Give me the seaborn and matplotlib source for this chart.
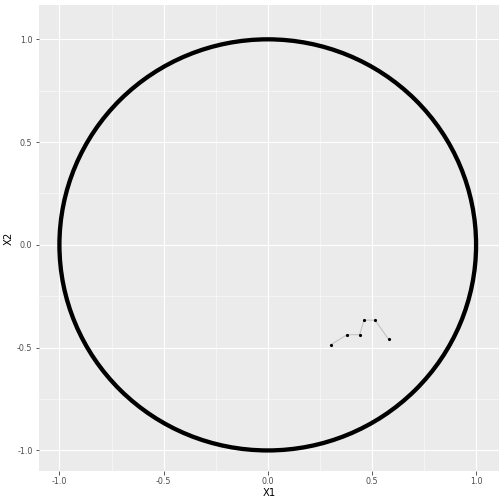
import numpy as np
import pandas as pd
import seaborn as sns
import matplotlib.pyplot as plt
from matplotlib.patches import Circle

# path of points inside the unit circle
x1 = [0.302, 0.381, 0.441, 0.462, 0.515, 0.580]
x2 = [-0.486, -0.437, -0.437, -0.366, -0.366, -0.459]
circle_center = (0.0, 0.0)
circle_radius = 1.0
ticks = [-1.0, -0.5, 0.0, 0.5, 1.0]
tick_labels = ["-1.0", "-0.5", "0.0", "0.5", "1.0"]
minor_ticks = [-0.75, -0.25, 0.25, 0.75]

df = pd.DataFrame({"X1": x1, "X2": x2})

fig = plt.figure(figsize=(7, 7), dpi=72)
ax = fig.add_axes([39 / 504, 33 / 504, 460 / 504, 466 / 504])
ax.set_facecolor("#EBEBEB")
for s in ax.spines.values():
    s.set_visible(False)

ax.set_xlim(-1.098, 1.11)
ax.set_ylim(-1.10, 1.167)
ax.set_xticks(ticks)
ax.set_xticklabels(tick_labels)
ax.set_yticks(ticks)
ax.set_yticklabels(tick_labels)
ax.set_xticks(minor_ticks, minor=True)
ax.set_yticks(minor_ticks, minor=True)
ax.grid(which="major", color="white", linewidth=1.1)
ax.grid(which="minor", color="white", linewidth=0.55)
ax.tick_params(which="minor", length=0)
ax.tick_params(which="major", length=3.5, width=0.8, color="#333333",
               labelsize=8, labelcolor="#4D4D4D", pad=3)
ax.set_axisbelow(True)

ax.add_patch(Circle(circle_center, circle_radius, fill=False,
                    edgecolor="black", linewidth=4.3))

sns.lineplot(data=df, x="X1", y="X2", sort=False, color="#BEBEBE",
             linewidth=1.0, ax=ax)
sns.scatterplot(data=df, x="X1", y="X2", color="black", s=10,
                edgecolor="black", linewidth=0, ax=ax, zorder=3)

ax.set_xlabel("X1", fontsize=10, labelpad=2)
ax.set_ylabel("X2", fontsize=10, labelpad=3)

fig.savefig("out.png", dpi=72)
